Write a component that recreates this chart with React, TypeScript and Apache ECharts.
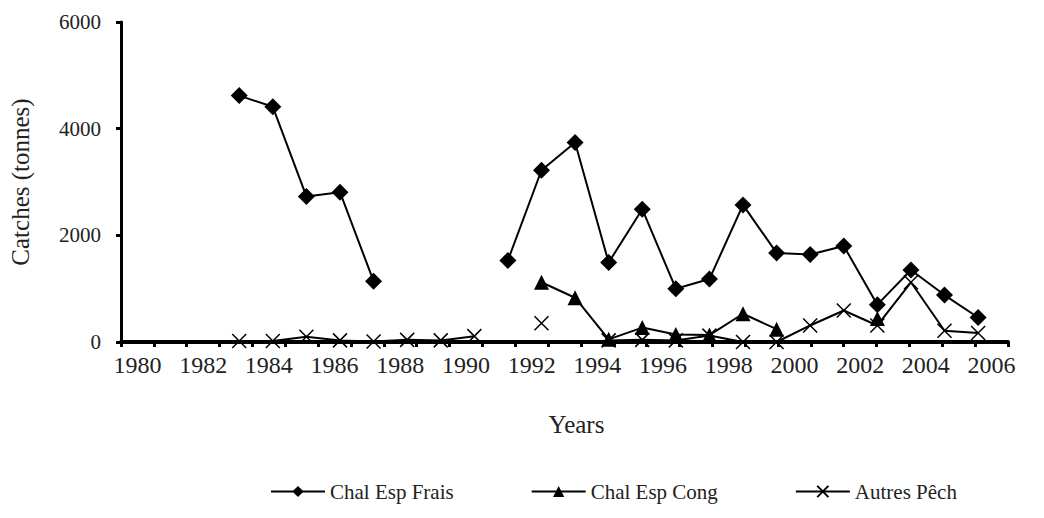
import React, { useEffect, useRef } from "react";
import * as echarts from "echarts";

const yearLabels = ["1980","1981","1982","1983","1984","1985","1986","1987","1988","1989","1990","1991","1992","1993","1994","1995","1996","1997","1998","1999","2000","2001","2002","2003","2004","2005","2006"];
const dataYears = [1983,1984,1985,1986,1987,1988,1989,1990,1991,1992,1993,1994,1995,1996,1997,1998,1999,2000,2001,2002,2003,2004,2005];
const chalEspFrais = [4620,4410,2730,2810,1140,null,null,null,1530,3220,3740,1490,2490,1000,1180,2570,1670,1640,1800,700,1350,880,460];
const chalEspCong = [null,null,null,null,null,null,null,null,null,1120,830,50,270,140,130,530,240,null,null,440,null,null,null];
const autresPech = [20,20,100,30,10,40,30,110,null,350,null,30,40,30,120,0,0,310,590,310,1120,210,170];
const yTicks = [0, 2000, 4000, 6000];

const FONT = "Liberation Serif";
const CROSS = "path://M0,0L10,10M10,0L0,10";

function pairs(vals: (number | null)[]) {
  return dataYears.map((y, i) => [y, vals[i]]);
}

export default function App() {
  const ref = useRef<HTMLDivElement>(null);
  useEffect(() => {
    const chart = echarts.init(ref.current!, null, { renderer: "svg" });
    const lineStyle = { color: "#000", width: 2 };
    chart.setOption({
      animation: false,
      textStyle: { fontFamily: FONT, color: "#000" },
      grid: { left: 121, right: 36, top: 22, bottom: 176 },
      legend: {
        left: 265,
        top: 476,
        itemWidth: 54,
        itemHeight: 14,
        itemGap: 77,
        textStyle: { fontFamily: FONT, fontSize: 21, color: "#222" },
        data: ["Chal Esp Frais", "Chal Esp Cong", "Autres Pêch"],
      },
      xAxis: [
        {
          type: "category",
          data: yearLabels,
          boundaryGap: true,
          name: "Years",
          nameLocation: "middle",
          nameGap: 70,
          nameTextStyle: { fontFamily: FONT, fontSize: 25, color: "#222", padding: [0, 0, 0, 24] },
          axisLine: { lineStyle: { color: "#000", width: 4 } },
          axisTick: { show: true, interval: 0, length: 5, lineStyle: { color: "#000", width: 3 } },
          axisLabel: { interval: 1, fontFamily: FONT, fontSize: 24, color: "#222", margin: 11 },
          splitLine: { show: false },
        },
        {
          type: "value",
          min: 1979.48,
          max: 2005.89,
          show: false,
          position: "bottom",
          splitLine: { show: false },
        },
      ],
      yAxis: {
        type: "value",
        min: 0,
        max: 6000,
        interval: 2000,
        name: "Catches (tonnes)",
        nameLocation: "middle",
        nameGap: 88,
        nameTextStyle: { fontFamily: FONT, fontSize: 25, color: "#222" },
        axisLine: { show: true, lineStyle: { color: "#000", width: 3 } },
        axisTick: { show: true, length: 5, lineStyle: { color: "#000", width: 3 } },
        axisLabel: {
          fontFamily: FONT,
          fontSize: 21,
          color: "#222",
          margin: 20,
          formatter: (v: number) => (yTicks.includes(v) ? String(v) : ""),
        },
        splitLine: { show: false },
      },
      series: [
        {
          name: "Chal Esp Frais",
          type: "line",
          xAxisIndex: 1,
          data: pairs(chalEspFrais),
          symbol: "diamond",
          symbolSize: 17,
          lineStyle,
          itemStyle: { color: "#000" },
          z: 3,
        },
        {
          name: "Chal Esp Cong",
          type: "line",
          xAxisIndex: 1,
          data: pairs(chalEspCong),
          symbol: "triangle",
          symbolSize: 15,
          lineStyle,
          itemStyle: { color: "#000" },
          z: 2,
        },
        {
          name: "Autres Pêch",
          type: "line",
          xAxisIndex: 1,
          data: pairs(autresPech),
          symbol: CROSS,
          symbolSize: 14,
          lineStyle,
          itemStyle: { color: "#000", borderColor: "#000", borderWidth: 1.5 },
          z: 1,
        },
      ],
    });
    return () => chart.dispose();
  }, []);
  return <div ref={ref} style={{ width: 1044, height: 518, margin: -8, background: "#fff" }} />;
}
